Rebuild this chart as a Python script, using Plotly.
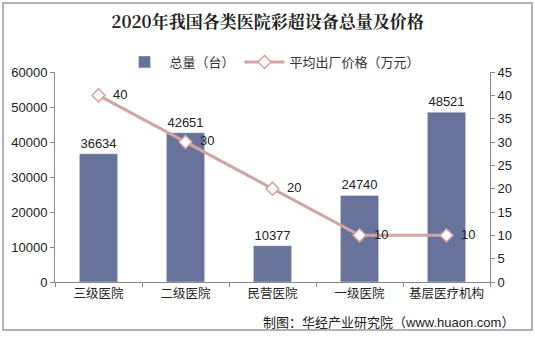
import plotly.graph_objects as go

categories = ["三级医院", "二级医院", "民营医院", "一级医院", "基层医疗机构"]
total_units = [36634, 42651, 10377, 24740, 48521]
avg_price = [40, 30, 20, 10, 10]

W, H = 535, 337
L, R, T, B = 55, 45, 72, 55
pw, ph = W - L - R, H - T - B

def px(x):
    return (x - L) / pw

def py(y):
    return (H - B - y) / ph

font = "Liberation Sans, Noto Sans CJK SC, Arial"

fig = go.Figure()
fig.add_trace(go.Bar(
    x=categories, y=total_units, name="总量（台）",
    marker=dict(color="#67739A"), width=0.44,
    text=[str(v) for v in total_units], textposition="outside",
    textfont=dict(size=13, color="#222"), cliponaxis=False,
))
fig.add_trace(go.Scatter(
    x=categories, y=avg_price, name="平均出厂价格（万元）", yaxis="y2",
    mode="lines+markers+text",
    line=dict(color="#D4A3A3", width=3),
    marker=dict(symbol="diamond", size=10, color="white", line=dict(color="#D4A3A3", width=1.5)),
    text=["  " + str(v) for v in avg_price], textposition="middle right",
    textfont=dict(size=13, color="#222"), cliponaxis=False,
))

fig.update_layout(
    width=W, height=H,
    margin=dict(l=L, r=R, t=T, b=B),
    paper_bgcolor="white", plot_bgcolor="white",
    font=dict(family=font, size=12, color="#222"),
    showlegend=True,
    legend=dict(orientation="h", x=0.5, xanchor="center", y=py(62), yanchor="middle",
                font=dict(size=13, color="#333"), itemwidth=40),
    title=dict(text="<b>2020年我国各类医院彩超设备总量及价格</b>", x=0.5, xanchor="center",
               y=1 - 22 / H, yanchor="middle", font=dict(size=17, color="#222", family="Noto Serif CJK SC, Liberation Serif, serif")),
    bargap=0.5,
    xaxis=dict(showline=True, linecolor="#888", ticks="outside", tickson="boundaries",
               ticklen=4, tickcolor="#888", showgrid=False, tickangle=0, automargin=False,
               tickfont=dict(size=12.5, color="#222")),
    yaxis=dict(range=[0, 60000], dtick=10000, tickformat="d", showline=True, linecolor="#888",
               ticks="outside", ticklen=4, tickcolor="#888", showgrid=False, zeroline=False,
               automargin=False, tickfont=dict(size=13, color="#222")),
    yaxis2=dict(range=[0, 45], dtick=5, overlaying="y", side="right", showline=True,
                linecolor="#888", ticks="outside", ticklen=4, tickcolor="#888",
                showgrid=False, zeroline=False, automargin=False,
                tickfont=dict(size=13, color="#222")),
    shapes=[dict(type="rect", xref="paper", yref="paper",
                 x0=px(3), x1=px(532), y0=py(330), y1=py(3),
                 line=dict(color="#999", width=1.5), fillcolor="rgba(0,0,0,0)", layer="below")],
    annotations=[dict(text="制图：华经产业研究院（www.huaon.com）", xref="paper", yref="paper",
                      x=px(516), y=py(322), xanchor="right", yanchor="middle",
                      showarrow=False, font=dict(size=13, color="#222"))],
)

fig.write_html("out.html")
